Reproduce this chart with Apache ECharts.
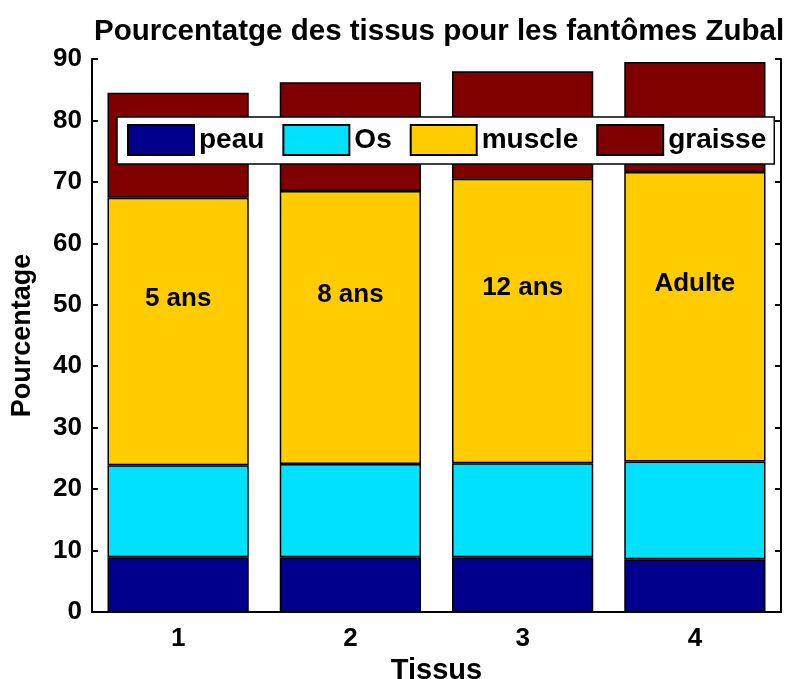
<!DOCTYPE html>
<html>
<head>
<meta charset="utf-8">
<script src="https://cdn.jsdelivr.net/npm/echarts@6/dist/echarts.min.js"></script>
<style>
  html, body { margin: 0; padding: 0; background: #fff; }
  #chart { width: 795px; height: 679px; }
</style>
</head>
<body>
<div id="chart"></div>
<script>
// categories and tissue shares (%)
const categories = ['1', '2', '3', '4'];
const ageLabels = ['5 ans', '8 ans', '12 ans', 'Adulte'];
const peau = [8.9, 8.9, 8.9, 8.6];
const os = [15.0, 15.2, 15.3, 15.9];
const muscle = [43.5, 44.4, 46.3, 47.1];
const graisse = [17.1, 17.7, 17.5, 17.9];

const font = 'Liberation Sans, Arial, sans-serif';

var chart = echarts.init(document.getElementById('chart'));

function barSeries(name, data, color) {
  return {
    name: name,
    type: 'bar',
    stack: 'tissus',
    barWidth: '82%',
    data: data,
    itemStyle: { color: color, borderColor: '#000', borderWidth: 1.5 }
  };
}

var muscleSeries = barSeries('muscle', muscle, '#ffcc00');
muscleSeries.label = {
  show: true,
  position: 'inside',
  offset: [0, -33],
  formatter: function (p) { return ageLabels[p.dataIndex]; },
  color: '#000',
  fontFamily: font,
  fontWeight: 'bold',
  fontSize: 26
};

chart.setOption({
  animation: false,
  title: {
    text: 'Pourcentatge des tissus pour les fantômes Zubal',
    left: 89,
    top: 12,
    textStyle: { fontFamily: font, fontWeight: 'bold', fontSize: 29.5, color: '#000' }
  },
  legend: {
    data: ['peau', 'Os', 'muscle', 'graisse'],
    left: 117,
    top: 117,
    itemWidth: 66,
    itemHeight: 30,
    itemGap: 18,
    padding: [7, 8, 8, 10],
    backgroundColor: '#fff',
    borderColor: '#000',
    borderWidth: 1.5,
    borderRadius: 0,
    icon: 'rect',
    textStyle: { fontFamily: font, fontWeight: 'bold', fontSize: 28, color: '#000' }
  },
  grid: { left: 92, right: 14, top: 59, bottom: 67, outerBoundsMode: 'none' },
  xAxis: [
    {
      type: 'category',
      data: categories,
      name: 'Tissus',
      nameLocation: 'middle',
      nameGap: 44,
      nameTextStyle: { fontFamily: font, fontWeight: 'bold', fontSize: 29, color: '#000' },
      axisLine: { lineStyle: { color: '#000', width: 2 } },
      axisTick: { inside: true, alignWithLabel: true, length: 6, lineStyle: { color: '#000', width: 2 } },
      axisLabel: { margin: 14, fontFamily: font, fontWeight: 'bold', fontSize: 26, color: '#000' },
      z: 10
    },
    {
      type: 'category',
      data: categories,
      position: 'top',
      axisLine: { lineStyle: { color: '#000', width: 2 } },
      axisTick: { inside: true, alignWithLabel: true, length: 6, lineStyle: { color: '#000', width: 2 } },
      axisLabel: { show: false }
    }
  ],
  yAxis: [
    {
      type: 'value',
      min: 0,
      max: 90,
      interval: 10,
      name: 'Pourcentage',
      nameLocation: 'middle',
      nameGap: 56,
      nameTextStyle: { fontFamily: font, fontWeight: 'bold', fontSize: 27, color: '#000' },
      splitLine: { show: false },
      axisLine: { show: true, lineStyle: { color: '#000', width: 2 } },
      axisTick: { show: true, inside: true, length: 6, lineStyle: { color: '#000', width: 2 } },
      axisLabel: { margin: 10, fontFamily: font, fontWeight: 'bold', fontSize: 26, color: '#000' }
    },
    {
      type: 'value',
      min: 0,
      max: 90,
      interval: 10,
      position: 'right',
      splitLine: { show: false },
      axisLine: { show: true, lineStyle: { color: '#000', width: 2 } },
      axisTick: { show: true, inside: true, length: 6, lineStyle: { color: '#000', width: 2 } },
      axisLabel: { show: false }
    }
  ],
  series: [
    barSeries('peau', peau, '#00008c'),
    barSeries('Os', os, '#00e0ff'),
    muscleSeries,
    barSeries('graisse', graisse, '#800000')
  ]
});
</script>
</body>
</html>
